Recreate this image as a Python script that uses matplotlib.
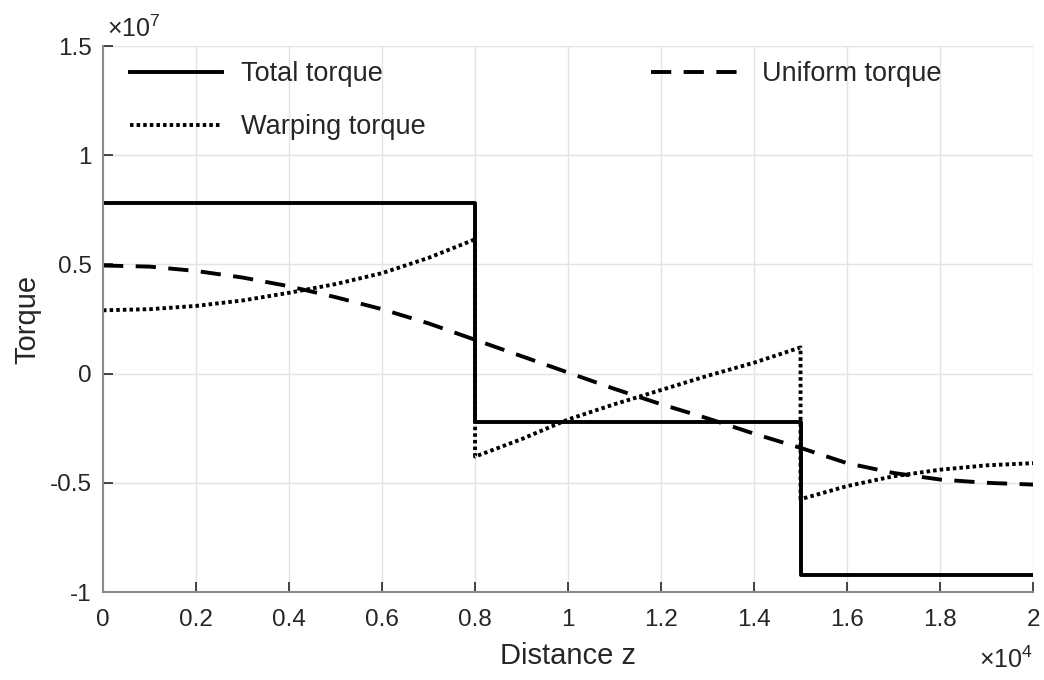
import numpy as np
import matplotlib.pyplot as plt
from matplotlib.ticker import FuncFormatter, MultipleLocator

plt.rcParams['font.family'] = ['Liberation Sans', 'DejaVu Sans']
plt.rcParams['mathtext.fontset'] = 'custom'
plt.rcParams['mathtext.rm'] = 'Liberation Sans'

# torque along the member, z in mm
z_total = [0, 8000, 8000, 15000, 15000, 20000]
total = [7.8e6, 7.8e6, -2.2e6, -2.2e6, -9.2e6, -9.2e6]

z_uni = [0, 1000, 2000, 3000, 4000, 5000, 6000, 7000, 8000, 9000, 10000,
         11000, 12000, 13000, 14000, 15000, 16000, 17000, 18000, 19000, 20000]
uniform = [4.95e6, 4.9e6, 4.7e6, 4.4e6, 4.0e6, 3.5e6, 2.95e6, 2.3e6, 1.55e6,
           0.8e6, 0.05e6, -0.7e6, -1.4e6, -2.05e6, -2.75e6, -3.4e6, -4.1e6,
           -4.55e6, -4.85e6, -5.0e6, -5.08e6]

z_warp = [0, 1000, 2000, 3000, 4000, 5000, 6000, 7000, 8000,
          8000, 9000, 10000, 11000, 12000, 13000, 14000, 15000,
          15000, 16000, 17000, 18000, 19000, 20000]
warping = [2.9e6, 2.95e6, 3.1e6, 3.35e6, 3.7e6, 4.1e6, 4.6e6, 5.3e6, 6.15e6,
           -3.8e6, -3.0e6, -2.1e6, -1.4e6, -0.75e6, -0.1e6, 0.5e6, 1.2e6,
           -5.75e6, -5.15e6, -4.7e6, -4.4e6, -4.2e6, -4.1e6]

fig = plt.figure(figsize=(10.44, 6.8), dpi=100)
ax = fig.add_axes([0.0987, 0.1294, 0.8908, 0.8029])

lw = 2.8
h1, = ax.plot(z_total, total, color='black', lw=lw, label='Total torque')
h2, = ax.plot(z_uni, uniform, color='black', lw=lw, ls=(0, (5.2, 3.2)), label='Uniform torque')
h3, = ax.plot(z_warp, warping, color='black', lw=lw, ls=(0, (0.9, 0.8)), label='Warping torque')

ax.set_xlim(0, 20000)
ax.set_ylim(-1e7, 1.5e7)
ax.xaxis.set_major_locator(MultipleLocator(2000))
ax.yaxis.set_major_locator(MultipleLocator(5e6))
ax.xaxis.set_major_formatter(FuncFormatter(lambda v, p: '%g' % round(v / 1e4, 2)))
ax.yaxis.set_major_formatter(FuncFormatter(lambda v, p: '%g' % round(v / 1e7, 2)))

ax.grid(True, color='#e3e3e3', lw=1.0)
ax.set_axisbelow(True)
for s in ['top', 'right']:
    ax.spines[s].set_visible(False)
for s in ['left', 'bottom']:
    ax.spines[s].set_color('#8a8a8a')
    ax.spines[s].set_linewidth(1.5)
ax.tick_params(direction='in', length=7, width=1.2, color='#262626',
               labelsize=17.5, labelcolor='#262626')
ax.tick_params(axis='x', pad=12)
ax.tick_params(axis='y', pad=8)

ax.set_xlabel('Distance z', fontsize=21, color='#262626', labelpad=8)
ax.set_ylabel('Torque', fontsize=21, color='#262626', labelpad=6)

ax.text(0.004, 1.008, r'$\times10^{7}$', transform=ax.transAxes, fontsize=18,
        color='#262626', ha='left', va='bottom')
ax.text(1.0, -0.1, r'$\times10^{4}$', transform=ax.transAxes, fontsize=18,
        color='#262626', ha='right', va='top')

leg = ax.legend([h1, h3, h2], ['Total torque', 'Warping torque', 'Uniform torque'],
                ncol=2, frameon=False, fontsize=19.5, handlelength=3.4,
                handletextpad=0.7, columnspacing=8.3, labelspacing=1.0,
                loc='upper left', bbox_to_anchor=(0.029, 0.972),
                borderaxespad=0, borderpad=0)
for t in leg.get_texts():
    t.set_color('#262626')

fig.savefig('out.png', dpi=100)
